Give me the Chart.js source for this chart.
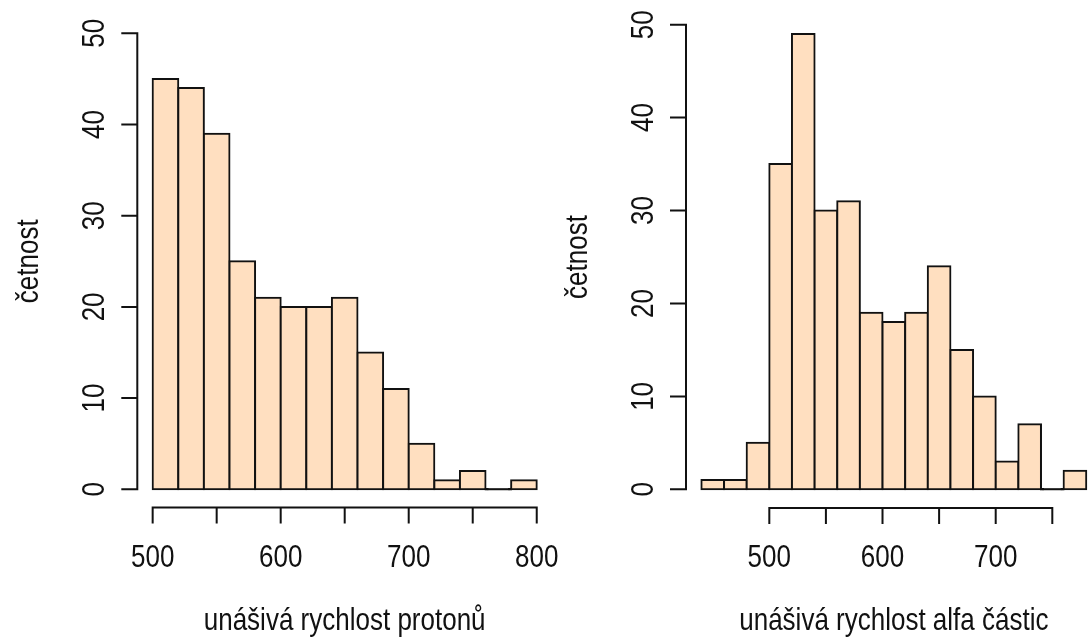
<!DOCTYPE html>
<html>
<head>
<meta charset="utf-8">
<script src="https://cdn.jsdelivr.net/npm/chart.js@4.4.1/dist/chart.umd.min.js"></script>
<style>
  html, body { margin: 0; padding: 0; background: #fff; overflow: hidden; }
  canvas { position: absolute; left: 0; top: 0; }
</style>
</head>
<body>
<canvas id="protons" width="1090" height="639"></canvas>
<canvas id="alpha" width="1090" height="639"></canvas>
<script>
// histogram bins (left edge of each 20 km/s bin) and counts
const protonBins = [500, 520, 540, 560, 580, 600, 620, 640, 660, 680, 700, 720, 740, 760, 780]
const protonCounts = [45, 44, 39, 25, 21, 20, 20, 21, 15, 11, 5, 1, 2, 0, 1]
const alphaBins = [440, 460, 480, 500, 520, 540, 560, 580, 600, 620, 640, 660, 680, 700, 720, 740, 760]
const alphaCounts = [1, 1, 5, 35, 49, 30, 31, 19, 18, 19, 24, 15, 10, 3, 7, 0, 2]
const binWidth = 20

// axis ticks, and which of them carry a label (R drops the ones that would collide)
const protonXTicks = [500, 550, 600, 650, 700, 750, 800]
const protonXLabels = [500, 600, 700, 800]
const alphaXTicks = [500, 550, 600, 650, 700, 750]
const alphaXLabels = [500, 600, 700]
const countTicks = [0, 10, 20, 30, 40, 50]

const protonTitle = 'unášivá rychlost protonů'
const alphaTitle = 'unášivá rychlost alfa částic'
const countTitle = 'četnost'

const FILL = '#FFDFC0'
const INK = '#111'
const FONT = '26px "Liberation Sans", Arial, sans-serif'
const STRETCH = 1.18 // the reference text is a bit taller than it is wide
const LINE = 33 // one R margin line, px

function label(ctx, text, x, y, upright) {
  ctx.save()
  ctx.translate(x, y)
  if (!upright) ctx.rotate(-Math.PI / 2)
  ctx.scale(1, STRETCH)
  ctx.fillText(text, 0, 0)
  ctx.restore()
}

// R-style axes: line only from first to last tick, ticks pointing out
const rAxes = {
  id: 'rAxes',
  afterDraw(chart, args, opts) {
    const { ctx, chartArea: area } = chart
    const xs = chart.scales.x
    const ys = chart.scales.y
    const xv = xs.ticks.map(t => t.value)
    const yv = ys.ticks.map(t => t.value)
    const tick = 15

    ctx.save()
    ctx.strokeStyle = INK
    ctx.lineWidth = 2
    ctx.lineCap = 'square'
    ctx.fillStyle = INK
    ctx.font = FONT
    ctx.textBaseline = 'alphabetic'
    ctx.textAlign = 'center'

    // x axis
    const ay = area.bottom
    ctx.beginPath()
    ctx.moveTo(xs.getPixelForValue(xv[0]), ay)
    ctx.lineTo(xs.getPixelForValue(xv[xv.length - 1]), ay)
    xv.forEach(v => {
      const px = xs.getPixelForValue(v)
      ctx.moveTo(px, ay)
      ctx.lineTo(px, ay + tick)
    })
    ctx.stroke()
    opts.xLabels.forEach(v => label(ctx, String(v), xs.getPixelForValue(v), ay + 59, true))
    label(ctx, opts.xTitle, (area.left + opts.xEdge) / 2, ay + 122, true)

    // y axis
    const ax = area.left
    ctx.beginPath()
    ctx.moveTo(ax, ys.getPixelForValue(yv[0]))
    ctx.lineTo(ax, ys.getPixelForValue(yv[yv.length - 1]))
    yv.forEach(v => {
      const py = ys.getPixelForValue(v)
      ctx.moveTo(ax, py)
      ctx.lineTo(ax - tick, py)
    })
    ctx.stroke()
    yv.forEach(v => label(ctx, String(v), ax - LINE, ys.getPixelForValue(v), false))
    label(ctx, opts.yTitle, ax - 3 * LINE, (area.top + area.bottom) / 2, false)

    ctx.restore()
  }
}

function histogram(canvasId, bins, counts, xTicks, xLabels, xTitle, cfg) {
  return new Chart(document.getElementById(canvasId), {
    type: 'bar',
    data: {
      datasets: [{
        data: bins.map((b, i) => ({ x: b + binWidth / 2, y: counts[i] })),
        // an empty bin still shows as a flat outline on the baseline, as in R
        backgroundColor: c => (c.raw && c.raw.y === 0 ? INK : FILL),
        borderColor: INK,
        borderWidth: 2,
        borderSkipped: false,
        inflateAmount: 1,
        minBarLength: 0.5,
        barPercentage: 1,
        categoryPercentage: 1,
      }],
    },
    options: {
      responsive: false,
      animation: false,
      events: [],
      layout: { padding: cfg.padding },
      plugins: {
        legend: { display: false },
        tooltip: { enabled: false },
        rAxes: { xLabels, xTitle, yTitle: countTitle, xEdge: cfg.xEdge },
      },
      scales: {
        x: {
          type: 'linear',
          display: false,
          offset: false,
          min: cfg.xMin,
          max: cfg.xMax,
          afterBuildTicks: s => { s.ticks = xTicks.map(v => ({ value: v })) },
        },
        y: {
          display: false,
          min: -2,
          max: 52,
          afterBuildTicks: s => { s.ticks = countTicks.map(v => ({ value: v })) },
        },
      },
    },
    plugins: [rAxes],
  })
}

histogram('protons', protonBins, protonCounts, protonXTicks, protonXLabels, protonTitle, {
  xMin: 488, xMax: 812, xEdge: 552,
  padding: { left: 137.3, right: 1090 - 552.1, top: 15.1, bottom: 639 - 507.5 },
})

histogram('alpha', alphaBins, alphaCounts, alphaXTicks, alphaXLabels, alphaTitle, {
  xMin: 426.4, xMax: 783.3, xEdge: 1101.7,
  padding: { left: 686, right: 0, top: 6.1, bottom: 639 - 507.9 },
})
</script>
</body>
</html>
